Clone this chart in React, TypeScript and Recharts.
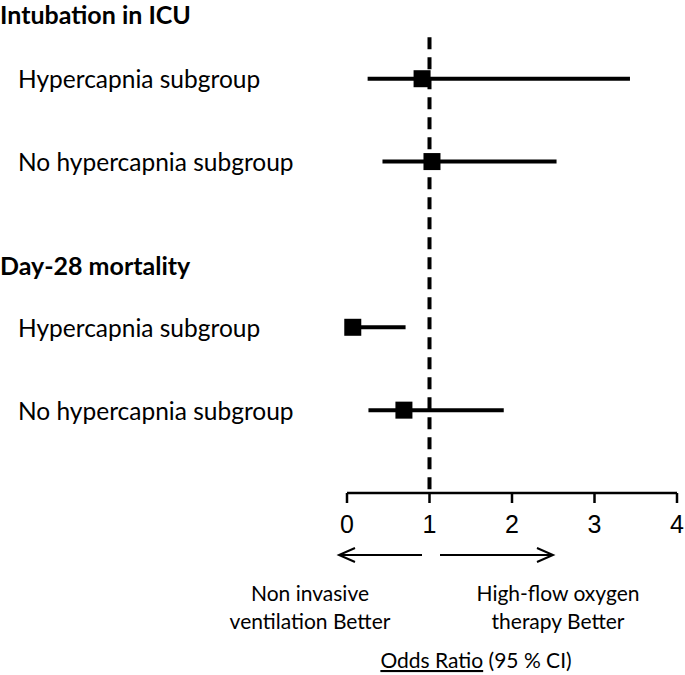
import React from "react";
import {
  ComposedChart,
  Scatter,
  ErrorBar,
  XAxis,
  YAxis,
  ReferenceLine,
} from "recharts";

const groupLabels = ["Intubation in ICU", "Day-28 mortality"];
const groupPos = [-0.78, 2.25];
const rowLabels = [
  "Hypercapnia subgroup",
  "No hypercapnia subgroup",
  "Hypercapnia subgroup",
  "No hypercapnia subgroup",
];
const rowPos = [0, 1, 3, 4];
const oddsRatio = [0.91, 1.03, 0.07, 0.69];
const ciLow = [0.25, 0.43, 0.03, 0.26];
const ciHigh = [3.43, 2.54, 0.71, 1.9];
const xTicks = [0, 1, 2, 3, 4];

const data = rowPos.map((y, i) => ({
  y,
  or: oddsRatio[i],
  err: [oddsRatio[i] - ciLow[i], ciHigh[i] - oddsRatio[i]],
}));

const yTicks = [...groupPos, ...rowPos].sort((a, b) => a - b);

const textFont = "Lato, 'Open Sans', sans-serif";

const RowTick = (props: any) => {
  const { y, payload } = props;
  const gi = groupPos.indexOf(payload.value);
  if (gi >= 0) {
    return (
      <text x={0} y={y} dominantBaseline="central" fontFamily={textFont} fontWeight="bold" fontSize={25} fill="#000">
        {groupLabels[gi]}
      </text>
    );
  }
  const ri = rowPos.indexOf(payload.value);
  return (
    <text x={18} y={y} dominantBaseline="central" fontFamily={textFont} fontSize={24.5} fill="#000">
      {rowLabels[ri]}
    </text>
  );
};

const Square = (props: any) => {
  const { cx, cy } = props;
  return <rect x={cx - 8.5} y={cy - 8.5} width={17} height={17} fill="#000" />;
};

const Arrow = ({ x1, x2, y }: { x1: number; x2: number; y: number }) => {
  const d = x2 > x1 ? -1 : 1;
  return (
    <g stroke="#000" strokeWidth={2} fill="none">
      <line x1={x1} y1={y} x2={x2} y2={y} />
      <polyline points={`${x2 + d * 16},${y - 7} ${x2},${y} ${x2 + d * 16},${y + 7}`} />
    </g>
  );
};

export default function App() {
  return (
    <div style={{ position: "absolute", left: 0, top: 0, width: 685, height: 675 }}>
      <ComposedChart
        width={685}
        height={675}
        data={data}
        margin={{ top: 0, right: 8, bottom: 0, left: 0 }}
      >
        <XAxis
          type="number"
          dataKey="or"
          domain={[0, 4]}
          ticks={xTicks}
          height={182}
          tickSize={10}
          tickMargin={12}
          stroke="#000"
          strokeWidth={2.5}
          tick={{ fill: "#000", fontSize: 25, fontFamily: "'Liberation Sans', Arial, sans-serif" }}
        />
        <YAxis
          type="number"
          dataKey="y"
          domain={[-0.95, 5]}
          reversed
          ticks={yTicks}
          interval={0}
          width={347}
          axisLine={false}
          tickLine={false}
          tick={<RowTick />}
        />
        <ReferenceLine
          segment={[
            { x: 1, y: -0.5 },
            { x: 1, y: 5 },
          ]}
          stroke="#000"
          strokeWidth={4}
          strokeDasharray="12 8"
        />
        <Scatter data={data} dataKey="y" shape={<Square />} isAnimationActive={false}>
          <ErrorBar dataKey="err" direction="x" width={0} strokeWidth={4} stroke="#000" isAnimationActive={false} />
        </Scatter>
      </ComposedChart>
      <svg
        width={685}
        height={675}
        style={{ position: "absolute", left: 0, top: 0, pointerEvents: "none" }}
      >
        <Arrow x1={422} x2={339} y={555} />
        <Arrow x1={440} x2={553} y={555} />
        <g fontFamily={textFont} fontSize={21} fill="#000" textAnchor="middle">
          <text x={310} y={601}>Non invasive</text>
          <text x={310} y={629}>ventilation Better</text>
          <text x={558} y={601}>High-flow oxygen</text>
          <text x={558} y={629}>therapy Better</text>
          <text x={476} y={668}>
            <tspan textDecoration="underline">Odds Ratio</tspan> (95 % CI)
          </text>
        </g>
      </svg>
    </div>
  );
}
